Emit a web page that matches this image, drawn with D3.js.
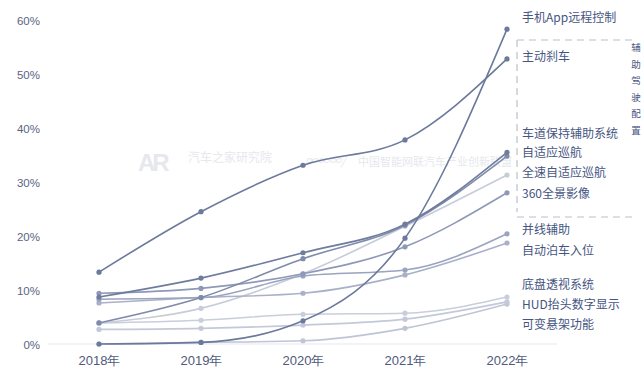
<!DOCTYPE html>
<html><head><meta charset="utf-8">
<script src="https://cdn.jsdelivr.net/npm/d3@7"></script>
<style>
html,body{margin:0;padding:0;background:#fff;}
svg{display:block;font-family:"Noto Sans CJK SC","Noto Sans",sans-serif;}
</style></head>
<body><svg id="c" width="643" height="371"></svg>
<script>
const years = ["2018年","2019年","2020年","2021年","2022年"];
const yTicks = [0,10,20,30,40,50,60];
const names = ["手机App远程控制","主动刹车","车道保持辅助系统","自适应巡航","全速自适应巡航","360全景影像","并线辅助","自动泊车入位","底盘透视系统","HUD抬头数字显示","可变悬架功能"];
const sApp   = [0, 0.3, 4.3, 19.6, 58.3];
const sBrake = [13.3, 24.5, 33.1, 37.8, 52.8];
const sLane  = [8.7, 12.2, 16.9, 22.2, 35.5];
const sAcc   = [3.9, 8.6, 15.8, 22.0, 34.8];
const sFull  = [3.9, 6.6, 13.0, 21.8, 31.3];
const s360   = [9.4, 10.3, 13.0, 18.0, 28.0];
const sMerge = [8.3, 8.6, 12.6, 13.7, 20.4];
const sPark  = [7.6, 8.6, 9.4, 12.8, 18.7];
const sChas  = [3.9, 4.4, 5.5, 5.7, 8.7];
const sHud   = [2.7, 2.9, 3.5, 4.6, 7.8];
const sSusp  = [0, 0.3, 0.6, 2.9, 7.4];
const seriesValues = [sApp,sBrake,sLane,sAcc,sFull,s360,sMerge,sPark,sChas,sHud,sSusp];
const colors = ["#6b799b","#6b799b","#6f7c9e","#7f8bab","#c7ccd9","#8e99b8","#9ba4bf","#a9b1c8","#c9cedb","#c3c9d8","#bfc5d5"];
const labelY = [18,57,134,153,173,194,230,251,285,305,325];
const sideText = ["辅","助","驾","驶","配","置"];

const svg = d3.select("#c");
const x = d3.scalePoint().domain(years).range([99,507]);
const y = d3.scaleLinear().domain([0,60]).range([344,20]);

// watermark
const wm = svg.append("g").attr("fill","#e6e8ed");
wm.append("text").attr("x",138).attr("y",171).attr("font-size",24).attr("font-weight","bold").attr("font-family","Liberation Sans, Arial").attr("letter-spacing",-3).text("AR");
wm.append("text").attr("x",188).attr("y",162).attr("font-size",12).text("汽车之家研究院");
wm.append("text").attr("x",305).attr("y",165).attr("font-size",12).attr("font-style","italic").text("∞∞∞/");
wm.append("text").attr("x",358).attr("y",166).attr("font-size",11).text("中国智能网联汽车产业创新联盟");

// baseline
svg.append("line").attr("x1",48).attr("x2",557).attr("y1",y(0)).attr("y2",y(0)).attr("stroke","#e4e7ee").attr("stroke-width",1.2);

// y axis
const yAxis = d3.axisLeft(y).tickValues(yTicks).tickFormat(d=>d+"%").tickSize(0).tickPadding(0);
const ga = svg.append("g").attr("transform","translate(40,0)").call(yAxis);
ga.select(".domain").remove();
ga.selectAll("text").attr("fill","#5a6482").attr("font-size",11.5).attr("font-family","Liberation Sans, Arial, sans-serif").attr("dy","0.35em");

// x axis
const xAxis = d3.axisBottom(x).tickSize(0).tickPadding(0);
const gx = svg.append("g").attr("transform","translate(0,356)").call(xAxis);
gx.select(".domain").remove();
gx.selectAll("text").attr("fill","#4f5a7c").attr("font-size",13).attr("dy","0.7em");

// dashed box
const box = svg.append("g").attr("stroke","#bcc0ca").attr("stroke-width",1.2).attr("stroke-dasharray","7,5").attr("fill","none");
box.append("line").attr("x1",517).attr("x2",634).attr("y1",40).attr("y2",40);
box.append("line").attr("x1",517).attr("x2",634).attr("y1",217).attr("y2",217);
box.append("line").attr("x1",517).attr("x2",517).attr("y1",40).attr("y2",212);

// vertical side text
svg.append("g").selectAll("text").data(sideText).join("text")
  .attr("x",636).attr("y",(d,i)=>51+i*16.5).attr("text-anchor","middle")
  .attr("font-size",9.5).attr("fill","#46557f").text(d=>d);

// lines
const line = d3.line().x((d,i)=>x(years[i])).y(d=>y(d)).curve(d3.curveMonotoneX);
const order = [10,9,8,4,7,6,5,3,2,1,0];
order.forEach(k=>{
  const vals = seriesValues[k];
  svg.append("path").datum(vals).attr("d",line).attr("fill","none")
    .attr("stroke",colors[k]).attr("stroke-width",1.6);
  svg.append("g").selectAll("circle").data(vals).join("circle")
    .attr("cx",(d,i)=>x(years[i])).attr("cy",d=>y(d)).attr("r",2.6).attr("fill",colors[k]);
});

// labels
svg.append("g").selectAll("text").data(names).join("text")
  .attr("x",522).attr("y",(d,i)=>labelY[i]).attr("dy","0.35em")
  .attr("font-size",12).attr("fill","#46557f").text(d=>d);
</script></body></html>
